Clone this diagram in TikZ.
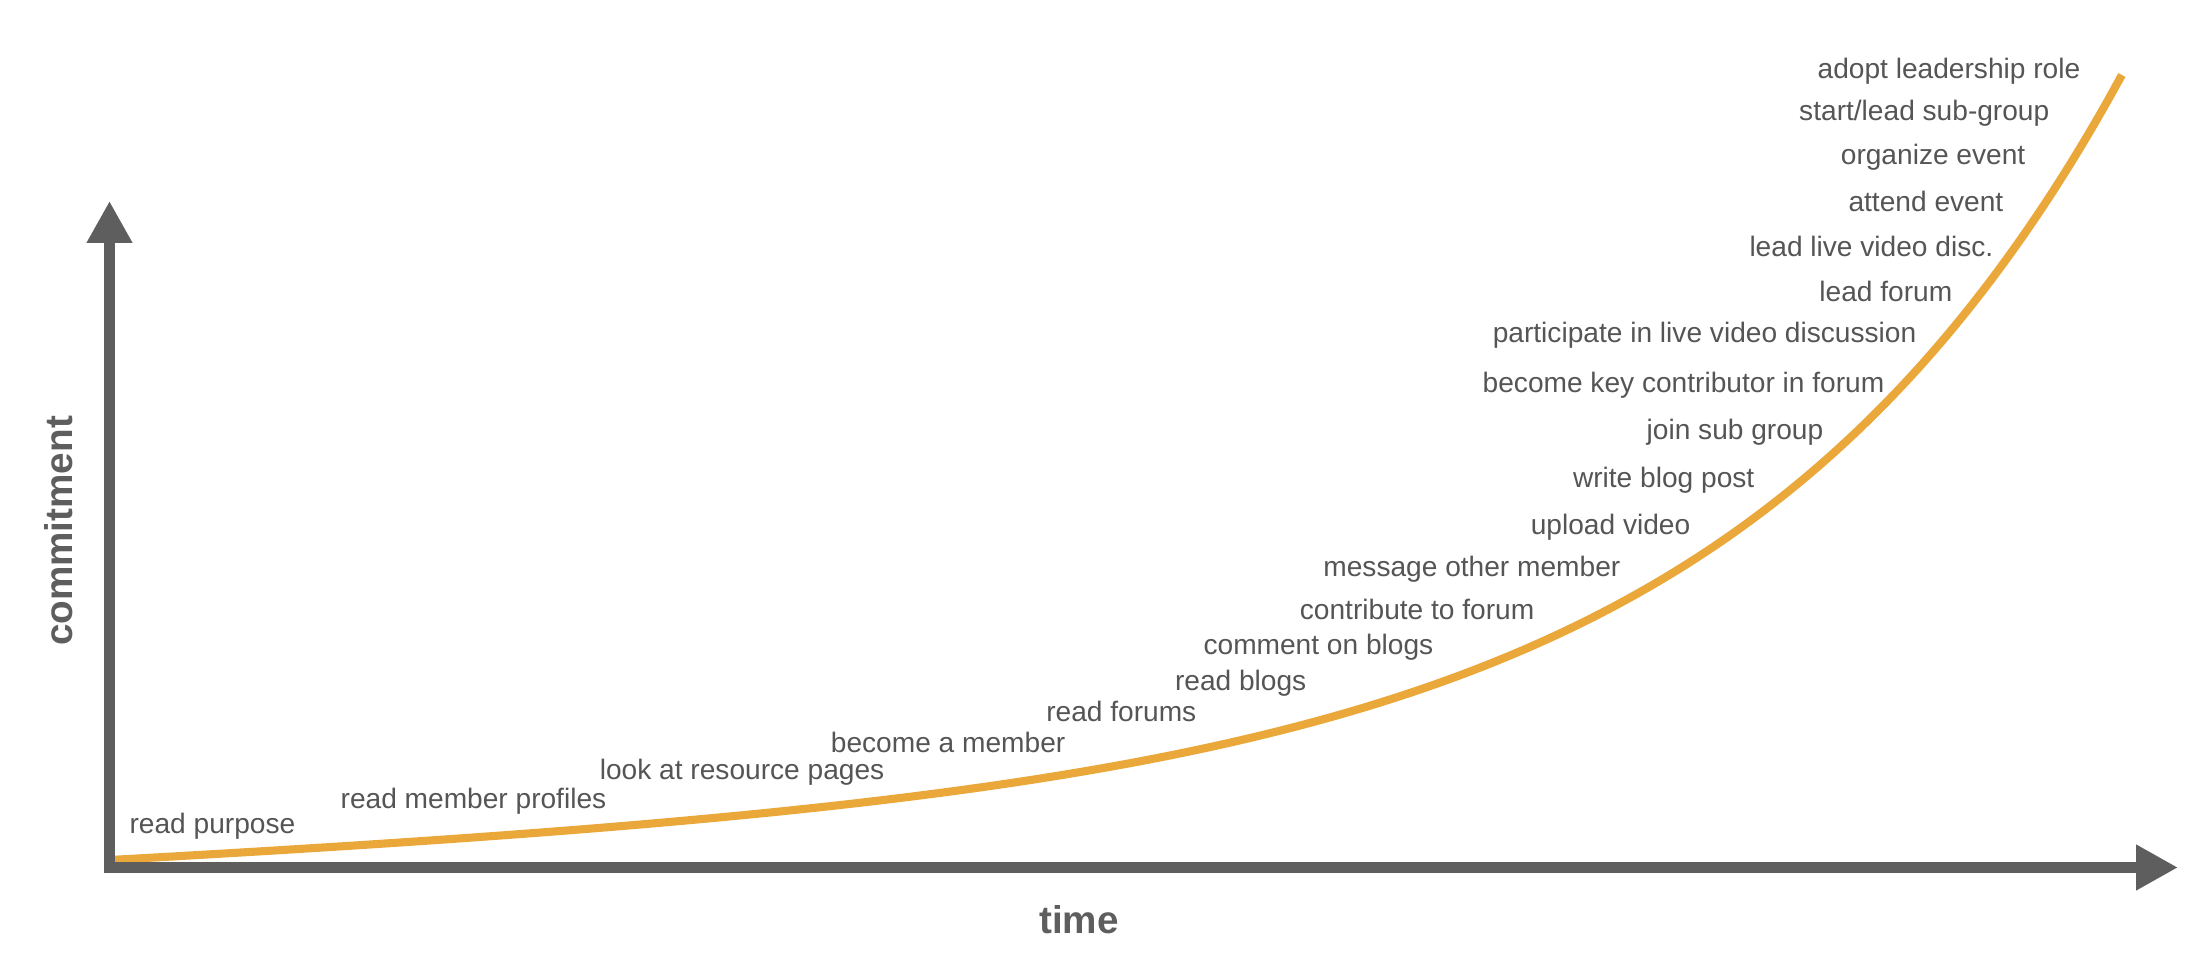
\documentclass[tikz,border=0pt]{standalone}
\usepackage{fontspec}
\setmainfont{Liberation Sans}
\usepackage{xcolor}
\usepackage{tikz}
\usetikzlibrary{arrows.meta,positioning}

\definecolor{axisgray}{HTML}{5E5E5E}
\definecolor{txtgray}{HTML}{555555}
\definecolor{curveorange}{HTML}{EBA83A}

\begin{document}
\begin{tikzpicture}[
    axis/.style={line width=3.1pt, draw=axisgray, line join=miter,
        {Triangle[length=0.42cm, width=0.43cm]}-{Triangle[length=0.42cm, width=0.43cm]}},
    curve/.style={line width=2.3pt, draw=curveorange, line cap=butt},
    lbl/.style={anchor=east, inner sep=0pt, text=txtgray, font=\fontsize{8}{9.6}\selectfont},
    axlbl/.style={inner sep=0pt, text=axisgray, font=\fontsize{11}{13}\selectfont\bfseries}
]
\useasboundingbox (0,0) rectangle (22.02,9.64);

% commitment curve (drawn first, the axes sit on top)
\draw[curve] plot[domain=1.10:21.22, samples=120, smooth]
    (\x, {1.04 + 0.045*(\x-1.10) + 0.0402*(exp(0.25635*(\x-1.10))-1)});

% axes
\coordinate (origin) at (1.095,0.965);
\coordinate (ytop) at (1.095,7.63);
\coordinate (xend) at (21.78,0.965);
\draw[axis] (ytop) |- (xend);

\node[axlbl, rotate=90] (commit) at (0.59,4.33) {commitment};
\node[axlbl] (time) at (10.79,0.44) {time};

% steps along the curve
\node[lbl] (purpose)   at (2.96,1.38)  {read purpose};
\node[lbl] (profiles)  at (6.07,1.63)  {read member profiles};
\node[lbl] (resources) at (8.85,1.92)  {look at resource pages};
\node[lbl] (member)    at (10.66,2.22) {become a member};
\node[lbl] (forums)    at (11.97,2.53) {read forums};
\node[lbl] (blogs)     at (13.07,2.81) {read blogs};
\node[lbl] (comment)   at (14.34,3.17) {comment on blogs};
\node[lbl] (contrib)   at (15.35,3.55) {contribute to forum};
\node[lbl] (message)   at (16.21,3.95) {message other member};
\node[lbl] (upload)    at (16.91,4.37) {upload video};
\node[lbl] (blogpost)  at (17.55,4.84) {write blog post};
\node[lbl] (subgroup)  at (18.24,5.32) {join sub group};
\node[lbl] (keycontr)  at (18.85,5.79) {become key contributor in forum};
\node[lbl] (livevideo) at (19.17,6.29) {participate in live video discussion};
\node[lbl] (leadforum) at (19.53,6.73) {lead forum};
\node[lbl] (leadlive)  at (19.94,7.18) {lead live video disc.};
\node[lbl] (attend)    at (20.04,7.63) {attend event};
\node[lbl] (organize)  at (20.26,8.07) {organize event};
\node[lbl] (leadsub)   at (20.50,8.51) {start/lead sub-group};
\node[lbl] (leader)    at (20.81,8.93) {adopt leadership role};
\end{tikzpicture}
\end{document}
